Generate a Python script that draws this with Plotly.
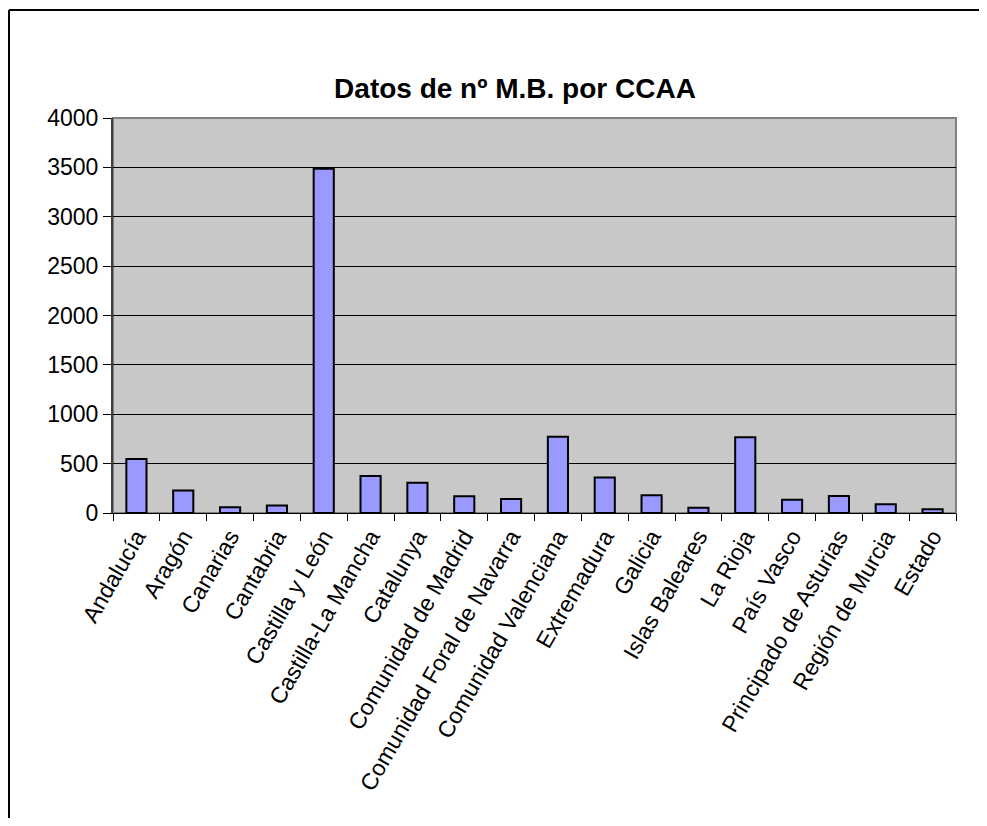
import plotly.graph_objects as go

categories = ["Andalucía", "Aragón", "Canarias", "Cantabria", "Castilla y León",
              "Castilla-La Mancha", "Catalunya", "Comunidad de Madrid",
              "Comunidad Foral de Navarra", "Comunidad Valenciana", "Extremadura",
              "Galicia", "Islas Baleares", "La Rioja", "País Vasco",
              "Principado de Asturias", "Región de Murcia", "Estado"]
values = [548, 228, 58, 75, 3487, 374, 306, 170, 143, 772, 360, 180, 54, 768, 133, 173, 89, 38]
y_ticks = [0, 500, 1000, 1500, 2000, 2500, 3000, 3500, 4000]
title_text = "Datos de nº M.B. por CCAA"

FONT = "Liberation Sans, Arial, sans-serif"

# The page body has an 8px margin, so the figure is offset by 8px.
W, H = 979, 810
L, R, T, B = 105, 31, 110, 305
PW, PH = W - L - R, H - T - B

fig = go.Figure(go.Bar(
    x=categories, y=values,
    marker=dict(color="#9999FF", line=dict(color="black", width=2)),
))

fig.update_layout(
    width=W, height=H,
    margin=dict(l=L, r=R, t=T, b=B),
    paper_bgcolor="white",
    plot_bgcolor="#C8C8C8",
    bargap=0.57,
    showlegend=False,
    title=dict(text="<b>" + title_text + "</b>", x=507 / W, xanchor="center",
               y=1 - 80 / H, yanchor="middle", xref="container", yref="container",
               font=dict(family=FONT, size=28, color="black")),
    font=dict(family=FONT, color="black"),
)

fig.update_xaxes(
    type="category", tickangle=-60, tickfont=dict(size=23, family=FONT),
    showline=True, linecolor="black", linewidth=1,
    ticks="outside", tickson="boundaries", ticklen=7, tickcolor="black",
    showgrid=False,
)
fig.update_yaxes(
    range=[0, 4000], tickvals=y_ticks, tickfont=dict(size=23, family=FONT),
    showline=True, linecolor="#404040", linewidth=2,
    ticks="outside", ticklen=8, tickcolor="black",
    showgrid=True, gridcolor="black", gridwidth=1,
    zeroline=False,
)

# plot area frame (gray)
fig.add_shape(type="rect", xref="paper", yref="paper", x0=0, y0=0, x1=1, y1=1,
              line=dict(color="#808080", width=2), layer="below")
# outer chart frame: left and top edges (right/bottom are off-page)
fx0 = (1 - L) / PW
fx1 = (W - L + 2) / PW
fy_top = (T + PH - 2) / PH
fy_bot = -(B + 2) / PH
fig.add_shape(type="line", xref="paper", yref="paper",
              x0=fx0, y0=fy_bot, x1=fx0, y1=fy_top, line=dict(color="black", width=2))
fig.add_shape(type="line", xref="paper", yref="paper",
              x0=fx0, y0=fy_top, x1=fx1, y1=fy_top, line=dict(color="black", width=2))

fig.write_html("out.html")
